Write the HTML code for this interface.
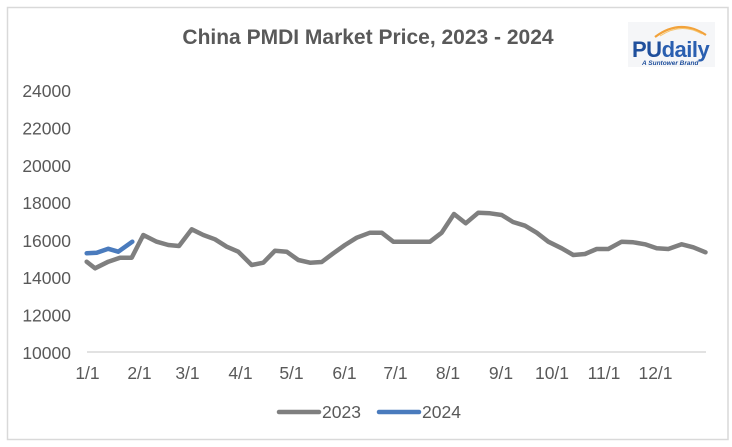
<!DOCTYPE html>
<html>
<head>
<meta charset="utf-8">
<style>
  html, body { margin: 0; padding: 0; background: #ffffff; }
  svg { display: block; }
  text { font-family: "Liberation Sans", Arial, sans-serif; }
</style>
</head>
<body>
<svg width="732" height="447" viewBox="0 0 732 447" xmlns="http://www.w3.org/2000/svg">
  <rect x="0" y="0" width="732" height="447" fill="#ffffff"/>
  <!-- chart border -->
  <rect x="7.5" y="7.5" width="720.5" height="432" fill="#ffffff" stroke="#d9d9d9" stroke-width="1.5"/>

  <!-- title -->
  <text x="368" y="44" text-anchor="middle" font-size="21" font-weight="bold" fill="#595959">China PMDI Market Price, 2023 - 2024</text>

  <!-- logo -->
  <rect x="628" y="22" width="87" height="45" fill="#f5f6f8"/>
  <path d="M655 37 Q680 18 706 35" fill="none" stroke="#f2a23a" stroke-width="2.2"/>
  <path d="M660 36 Q681 22 702 34" fill="none" stroke="#f7c56e" stroke-width="1"/>
  <text x="632" y="57" font-size="22" font-weight="bold" fill="#1f4f9c" letter-spacing="-0.5">PU<tspan fill="#2a5fb0">daily</tspan></text>
  <text x="642" y="65" font-size="6.5" font-style="italic" font-weight="bold" fill="#1f4f9c">A Suntower Brand</text>

  <!-- y axis labels -->
  <g font-size="17.5" fill="#595959" text-anchor="end">
    <text x="71" y="97">24000</text>
    <text x="71" y="134.5">22000</text>
    <text x="71" y="172">20000</text>
    <text x="71" y="209">18000</text>
    <text x="71" y="247">16000</text>
    <text x="71" y="284">14000</text>
    <text x="71" y="321.5">12000</text>
    <text x="71" y="359">10000</text>
  </g>

  <!-- x axis line -->
  <line x1="87" y1="352" x2="706" y2="352" stroke="#d9d9d9" stroke-width="1.5"/>

  <!-- x axis labels -->
  <g font-size="17.5" fill="#595959" text-anchor="middle">
    <text x="87.5" y="379">1/1</text>
    <text x="139.5" y="379">2/1</text>
    <text x="187.5" y="379">3/1</text>
    <text x="240.5" y="379">4/1</text>
    <text x="291.5" y="379">5/1</text>
    <text x="344.5" y="379">6/1</text>
    <text x="395.5" y="379">7/1</text>
    <text x="448" y="379">8/1</text>
    <text x="501" y="379">9/1</text>
    <text x="552" y="379">10/1</text>
    <text x="604" y="379">11/1</text>
    <text x="655.5" y="379">12/1</text>
  </g>

  <!-- 2023 series -->
  <polyline fill="none" stroke="#7f7f7f" stroke-width="4.5" stroke-linejoin="round" stroke-linecap="round"
    points="86.7,261.7 95,268.3 108.3,261.7 120,257.7 131.7,257.7 143.3,235 156.7,241.7 168.3,245 179,246 191.7,229.3 203.3,235 215,239.3 226.7,246.7 238.3,251.7 251.7,265 263.3,262.7 275,250.7 286.7,251.7 298.3,260 310,262.7 321.7,262 333.3,253.3 345,245 356.7,237.7 370,232.7 381.7,232.7 393.3,241.7 405,241.7 416.7,241.7 430,241.7 441.7,232.7 454,214 465.7,223.3 478.3,212.7 490,213.3 501.7,215 513,222 525,225.7 536.7,232.7 548.3,241.7 561.7,248.3 573.3,255 585,254 596.7,249 608.3,249 621.7,241.7 633.3,242.3 645,244.3 656.7,248.3 668.3,249 681.7,244.3 693.3,247.3 705.5,252.3"/>

  <!-- 2024 series -->
  <polyline fill="none" stroke="#4a7bbd" stroke-width="4.5" stroke-linejoin="round" stroke-linecap="round"
    points="86.7,253.3 96.7,252.7 108.3,248.8 118.3,251.7 132.3,241.7"/>

  <!-- legend -->
  <line x1="279" y1="412" x2="319" y2="412" stroke="#7f7f7f" stroke-width="4.5" stroke-linecap="round"/>
  <text x="322" y="418" font-size="17.5" fill="#595959">2023</text>
  <line x1="379" y1="412" x2="419" y2="412" stroke="#4a7bbd" stroke-width="4.5" stroke-linecap="round"/>
  <text x="422" y="418" font-size="17.5" fill="#595959">2024</text>
</svg>
</body>
</html>
